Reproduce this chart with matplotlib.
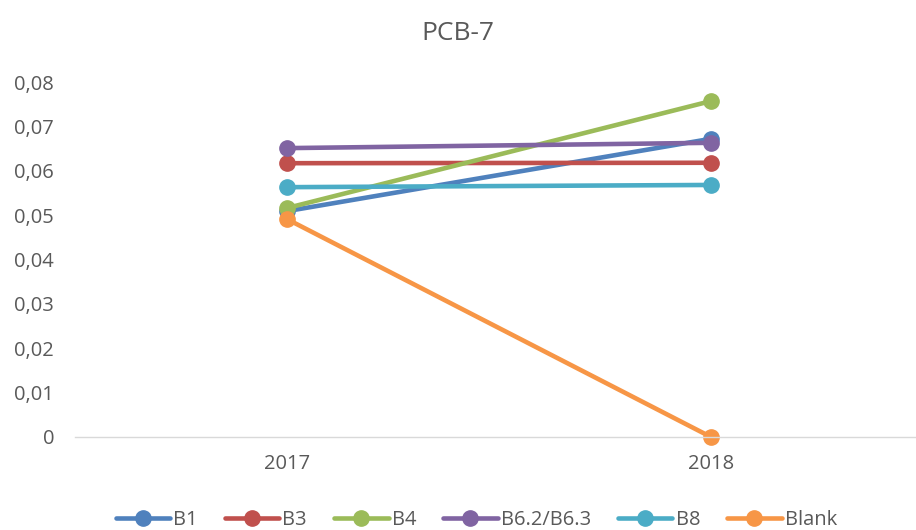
import matplotlib
matplotlib.use("Agg")
import matplotlib.pyplot as plt
from matplotlib.ticker import FuncFormatter

years = ["2017", "2018"]
series_names = ["B1", "B3", "B4", "B6.2/B6.3", "B8", "Blank"]
b1 = [0.0509, 0.0672]
b3 = [0.0617, 0.0618]
b4 = [0.0516, 0.0757]
b6 = [0.0651, 0.0663]
b8 = [0.0563, 0.0568]
blank = [0.0491, 0.0]
colors = ["#4F81BD", "#C0504D", "#9BBB59", "#8064A2", "#4BACC6", "#F79646"]

plt.rcParams['font.family'] = ['Open Sans', 'DejaVu Sans']

fig = plt.figure(figsize=(9.16, 5.30), dpi=100)
ax = fig.add_axes([75/916, (530-437)/530, 1 - 75/916, (437-82)/530])

x = list(range(len(years)))
for name, vals, c in zip(series_names, [b1, b3, b4, b6, b8, blank], colors):
    ax.plot(x, vals, color=c, linewidth=3.3, marker='o', markersize=11,
            solid_capstyle='round', label=name, clip_on=False)

ax.set_xlim(-0.5, 1.5 - (923 - 916) / 424)
ax.set_ylim(0, 0.08)
ax.set_yticks([i * 0.01 for i in range(9)])
ax.yaxis.set_major_formatter(FuncFormatter(lambda v, p: "0" if abs(v) < 1e-9 else f"{v:.2f}".replace(".", ",")))
ax.set_xticks(x)
ax.set_xticklabels(years)
for s in ["top", "right", "left"]:
    ax.spines[s].set_visible(False)
ax.spines["bottom"].set_color("#D9D9D9")
ax.spines["bottom"].set_linewidth(1)
ax.tick_params(axis='y', length=0, pad=15, labelsize=14.5, labelcolor="#595959")
ax.tick_params(axis='x', length=0, pad=12, labelsize=14.5, labelcolor="#595959")

fig.text(0.5, 1 - 33/530, "PCB-7", ha='center', va='center', fontsize=19, color="#595959")

leg = fig.legend(loc='center', bbox_to_anchor=(0.52, 1 - 520/530), ncol=6, frameon=False,
                 fontsize=14.5, handlelength=2.7, columnspacing=1.35, handletextpad=0.15,
                 labelcolor="#595959")

fig.savefig("out.png", dpi=100)
